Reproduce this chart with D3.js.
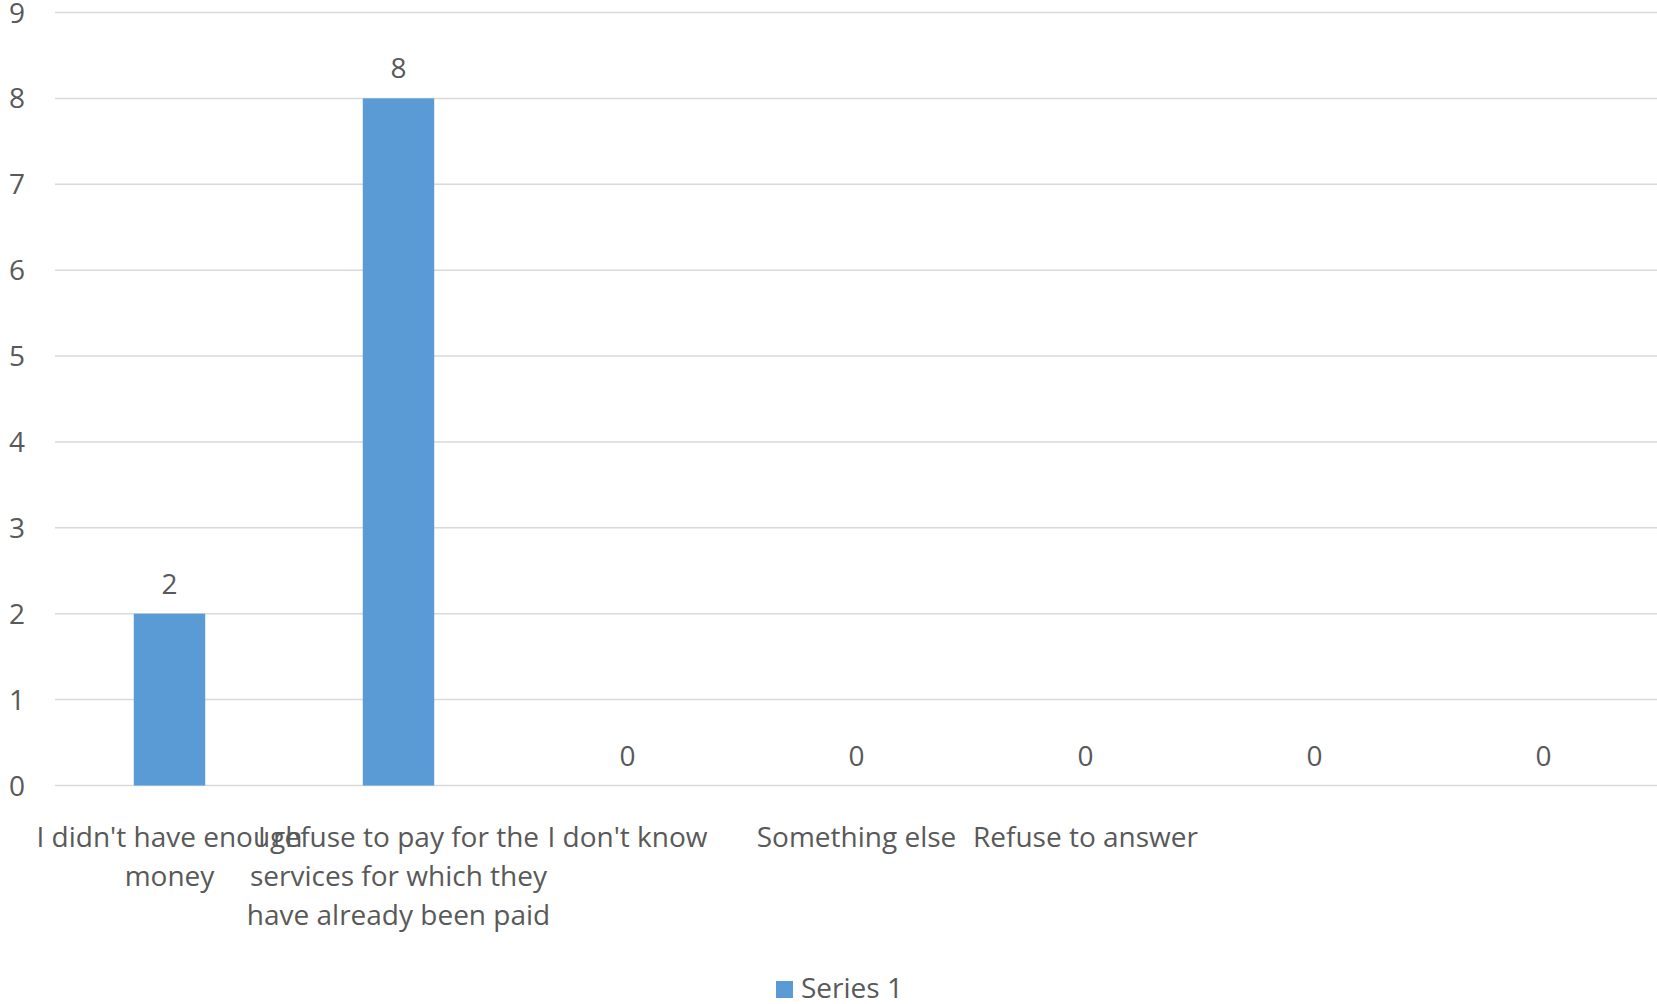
<!DOCTYPE html>
<html>
<head>
<meta charset="utf-8">
<script src="https://cdn.jsdelivr.net/npm/d3@7"></script>
<style>
  html, body { margin: 0; padding: 0; background: #ffffff; }
  svg { display: block; }
  text { font-family: "Open Sans", sans-serif; fill: #595959; }
</style>
</head>
<body>
<script>
// ---- data ----
const categories = ["c1", "c2", "c3", "c4", "c5", "c6", "c7"];
const categoryLabels = [
  ["I didn't have enough", "money"],
  ["I refuse to pay for the", "services for which they", "have already been paid"],
  ["I don't know"],
  ["Something else"],
  ["Refuse to answer"],
  [],
  []
];
const values = [2, 8, 0, 0, 0, 0, 0];
const yTicks = [0, 1, 2, 3, 4, 5, 6, 7, 8, 9];
const seriesName = "Series 1";

// ---- layout ----
const W = 1657, H = 1004;
const svg = d3.select("body").append("svg").attr("width", W).attr("height", H);

const x = d3.scaleBand().domain(categories).range([55, 1658]).paddingInner(0.688).paddingOuter(0.344);
const y = d3.scaleLinear().domain([0, 9]).range([785.5, 12.5]);
const FS = 28;

// gridlines
svg.append("g").selectAll("line").data(yTicks).join("line")
  .attr("x1", 55).attr("x2", W)
  .attr("y1", d => y(d)).attr("y2", d => y(d))
  .attr("stroke", "#d9d9d9").attr("stroke-width", 1.5);

// y tick labels
svg.append("g").selectAll("text").data(yTicks).join("text")
  .attr("x", 25).attr("y", d => y(d) + 10)
  .attr("text-anchor", "end").attr("font-size", FS)
  .text(d => d);

// bars
svg.append("g").selectAll("rect").data(values).join("rect")
  .attr("x", (d, i) => x(categories[i]))
  .attr("width", x.bandwidth())
  .attr("y", d => y(d))
  .attr("height", d => y(0) - y(d))
  .attr("fill", "#5b9bd5");

// data labels
svg.append("g").selectAll("text").data(values).join("text")
  .attr("x", (d, i) => x(categories[i]) + x.bandwidth() / 2)
  .attr("y", d => y(d) - 20)
  .attr("text-anchor", "middle").attr("font-size", FS)
  .text(d => d);

// category labels
const cg = svg.append("g");
categoryLabels.forEach((lines, i) => {
  const cx = x(categories[i]) + x.bandwidth() / 2;
  lines.forEach((ln, j) => {
    cg.append("text")
      .attr("x", cx).attr("y", 847 + j * 39)
      .attr("text-anchor", "middle").attr("font-size", FS)
      .text(ln);
  });
});

// legend
const lg = svg.append("g");
lg.append("rect").attr("x", 776).attr("y", 981).attr("width", 17).attr("height", 17).attr("fill", "#5b9bd5");
lg.append("text").attr("x", 801).attr("y", 998).attr("font-size", FS).text(seriesName);
</script>
</body>
</html>
